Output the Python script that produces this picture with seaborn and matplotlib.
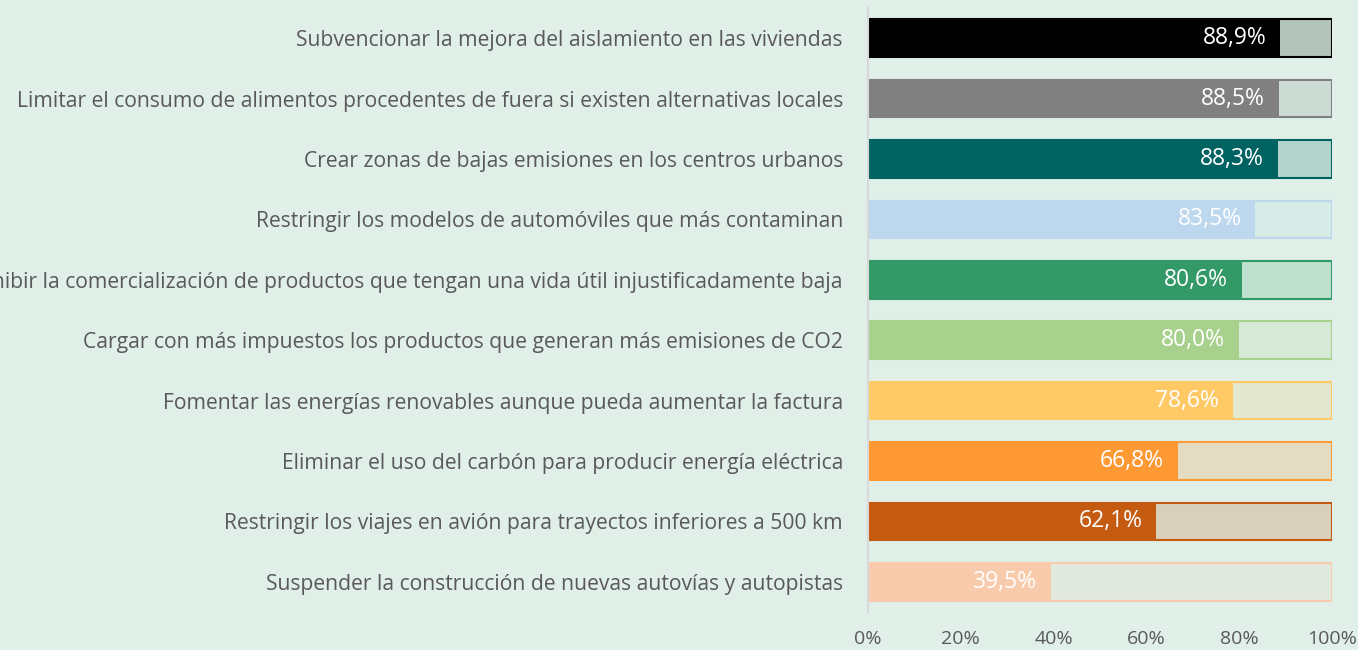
import matplotlib
matplotlib.use("Agg")
import matplotlib.pyplot as plt
import seaborn as sns
import pandas as pd

categories = [
    "Subvencionar la mejora del aislamiento en las viviendas",
    "Limitar el consumo de alimentos procedentes de fuera si existen alternativas locales",
    "Crear zonas de bajas emisiones en los centros urbanos",
    "Restringir los modelos de automóviles que más contaminan",
    "Prohibir la comercialización de productos que tengan una vida útil injustificadamente baja",
    "Cargar con más impuestos los productos que generan más emisiones de CO2",
    "Fomentar las energías renovables aunque pueda aumentar la factura",
    "Eliminar el uso del carbón para producir energía eléctrica",
    "Restringir los viajes en avión para trayectos inferiores a 500 km",
    "Suspender la construcción de nuevas autovías y autopistas",
]
values = [88.9, 88.5, 88.3, 83.5, 80.6, 80.0, 78.6, 66.8, 62.1, 39.5]
totals = [100] * len(values)
bar_colors = ["#000000", "#808080", "#006361", "#bdd7ee", "#339966",
              "#a9d18e", "#ffca66", "#ff9933", "#c55a11", "#f8cbad"]
bg_colors = ["#b4c4bb", "#ccdbd3", "#b3d4cd", "#d7ebe7", "#bde0cf",
             "#d5e9d6", "#e3e8cf", "#e3dcc3", "#d9d0bc", "#e2e9de"]
tick_vals = [0, 20, 40, 60, 80, 100]
tick_labels = ["0%", "20%", "40%", "60%", "80%", "100%"]

BG = "#e0efe8"
sns.set_theme(style="white")
plt.rcParams["font.family"] = ["Open Sans", "DejaVu Sans"]

df = pd.DataFrame({"cat": categories, "val": values, "tot": totals})

fig = plt.figure(figsize=(13.58, 6.5), dpi=100, facecolor=BG)
ax = fig.add_axes([868 / 1358, 1 - 612 / 650, (1332 - 868) / 1358, (612 - 8) / 650])
ax.set_facecolor(BG)

sns.barplot(data=df, x="tot", y="cat", hue="cat", palette=bg_colors, orient="h",
            width=0.62, legend=False, ax=ax, dodge=False, saturation=1)
bg_patches = list(ax.patches)
for p, c in zip(bg_patches, bar_colors):
    p.set_edgecolor(c)
    p.set_linewidth(1.5)
sns.barplot(data=df, x="val", y="cat", hue="cat", palette=bar_colors, orient="h",
            width=0.62, legend=False, ax=ax, dodge=False, saturation=1)
val_patches = ax.patches[len(bg_patches):]
for p in val_patches:
    p.set_linewidth(0)

for i, v in enumerate(values):
    ax.annotate(f"{v:.1f}%".replace(".", ","), xy=(v, i), xytext=(-10, 0),
                textcoords="offset points", ha="right", va="center",
                color="white", fontsize=16.5)

ax.set_xlim(0, 100)
ax.set_ylim(9.5, -0.5)
ax.set_xticks(tick_vals)
ax.set_xticklabels(tick_labels, color="#595959", fontsize=14)
ax.tick_params(axis="x", length=0, pad=13)
ax.tick_params(axis="y", length=0, pad=18, labelsize=15.2, labelcolor="#595959")
ax.set_xlabel("")
ax.set_ylabel("")
for s in ["top", "right", "bottom"]:
    ax.spines[s].set_visible(False)
ax.spines["left"].set_color("#d9d9d9")
ax.spines["left"].set_linewidth(1.5)

fig.savefig("out.png", dpi=100, facecolor=BG)
